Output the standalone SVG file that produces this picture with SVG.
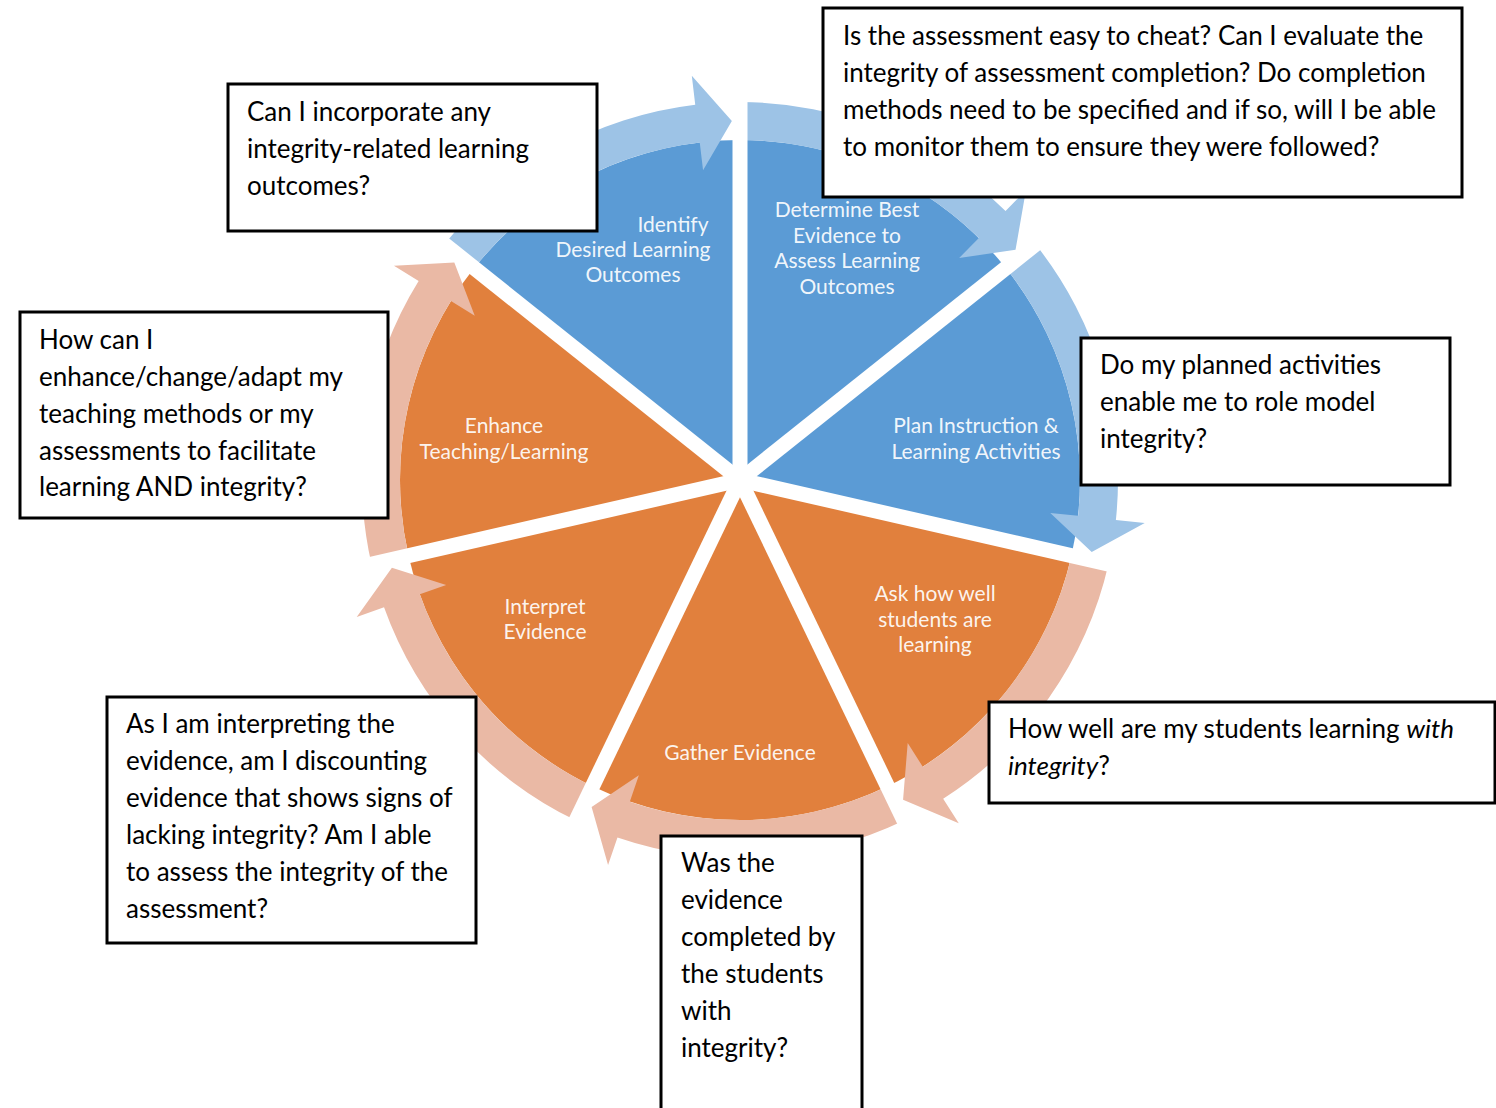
<svg xmlns="http://www.w3.org/2000/svg" width="1496" height="1108" viewBox="0 0 1496 1108">
  <style>
    .blue { fill: #5b9bd5; }
    .orange { fill: #e1803d; }
    .arrow-blue { fill: #9dc3e6; }
    .arrow-orange { fill: #eab9a5; }
    .gap { stroke: #ffffff; stroke-width: 15; stroke-linecap: butt; }
    .seg-label { font-family: Lato, "Liberation Sans", sans-serif; font-size: 21px; fill: #ffffff; fill-opacity: 0.93; text-anchor: middle; }
    .box { fill: #ffffff; stroke: #000000; stroke-width: 3; }
    .note { font-family: Lato, "Liberation Sans", sans-serif; font-size: 26px; fill: #000000; }
  </style>
  <rect x="0" y="0" width="1496" height="1108" fill="#ffffff"/>

  <!-- Pie segments of the cycle, centre (740,480), radius 340 -->
  <g id="seg-determine">
    <path class="blue" d="M740,480 L740,140 A340,340 0 0 1 1005.82,268.01 Z"/>
  </g>
  <g id="seg-plan">
    <path class="blue" d="M740,480 L1005.82,268.01 A340,340 0 0 1 1071.48,555.66 Z"/>
  </g>
  <g id="seg-ask">
    <path class="orange" d="M740,480 L1071.48,555.66 A340,340 0 0 1 887.52,786.33 Z"/>
  </g>
  <g id="seg-gather">
    <path class="orange" d="M740,480 L887.52,786.33 A340,340 0 0 1 592.48,786.33 Z"/>
  </g>
  <g id="seg-interpret">
    <path class="orange" d="M740,480 L592.48,786.33 A340,340 0 0 1 408.52,555.66 Z"/>
  </g>
  <g id="seg-enhance">
    <path class="orange" d="M740,480 L408.52,555.66 A340,340 0 0 1 474.18,268.01 Z"/>
  </g>
  <g id="seg-identify">
    <path class="blue" d="M740,480 L474.18,268.01 A340,340 0 0 1 740,140 Z"/>
  </g>

  <!-- Curved arrows running clockwise round the rim -->
  <g id="connectors">
    <path class="arrow-blue" d="M740,102 A378,378 0 0 1 1005.55,210.98 L1025.92,190.35 L1015.53,249.86 L959.18,257.96 L978.85,238.03 A340,340 0 0 0 740,140 Z"/>
    <path class="arrow-blue" d="M1035.53,244.32 A378,378 0 0 1 1115.89,519.88 L1144.73,522.94 L1091.72,551.92 L1050.26,512.92 L1078.10,515.87 A340,340 0 0 0 1005.82,268.01 Z"/>
    <path class="arrow-orange" d="M1108.52,564.11 A378,378 0 0 1 943.18,798.75 L958.76,823.21 L903.06,799.83 L907.70,743.10 L922.75,766.71 A340,340 0 0 0 1071.48,555.66 Z"/>
    <path class="arrow-orange" d="M904.01,820.57 A378,378 0 0 1 617.47,837.59 L608.07,865.03 L591.61,806.91 L638.86,775.15 L629.79,801.64 A340,340 0 0 0 887.52,786.33 Z"/>
    <path class="arrow-orange" d="M575.99,820.57 A378,378 0 0 1 384.03,607.16 L356.72,616.91 L391.90,567.80 L446.18,584.95 L419.81,594.37 A340,340 0 0 0 592.48,786.33 Z"/>
    <path class="arrow-orange" d="M371.48,564.11 A378,378 0 0 1 418.64,280.97 L393.98,265.70 L454.31,262.59 L474.75,315.72 L450.94,300.98 A340,340 0 0 0 408.52,555.66 Z"/>
    <path class="arrow-blue" d="M444.47,244.32 A378,378 0 0 1 695.24,104.66 L691.81,75.86 L731.86,121.09 L703.06,170.19 L699.74,142.39 A340,340 0 0 0 474.18,268.01 Z"/>
  </g>

  <!-- White separators between the segments -->
  <g id="gaps" class="gap">
    <line x1="740" y1="480" x2="740" y2="60"/>
    <line x1="740" y1="480" x2="1068.37" y2="218.13"/>
    <line x1="740" y1="480" x2="1149.47" y2="573.46"/>
    <line x1="740" y1="480" x2="922.23" y2="858.41"/>
    <line x1="740" y1="480" x2="557.77" y2="858.41"/>
    <line x1="740" y1="480" x2="330.53" y2="573.46"/>
    <line x1="740" y1="480" x2="411.63" y2="218.13"/>
  </g>

  <!-- Segment labels -->
  <g id="labels">
    <text class="seg-label"><tspan x="673" y="232">Identify</tspan><tspan x="633" y="257">Desired Learning</tspan><tspan x="633" y="282">Outcomes</tspan></text>
    <text class="seg-label"><tspan x="847" y="217">Determine Best</tspan><tspan x="847" y="243">Evidence to</tspan><tspan x="847" y="268">Assess Learning</tspan><tspan x="847" y="294">Outcomes</tspan></text>
    <text class="seg-label"><tspan x="976" y="433">Plan Instruction &amp;</tspan><tspan x="976" y="459">Learning Activities</tspan></text>
    <text class="seg-label"><tspan x="935" y="601">Ask how well</tspan><tspan x="935" y="627">students are</tspan><tspan x="935" y="652">learning</tspan></text>
    <text class="seg-label"><tspan x="740" y="760">Gather Evidence</tspan></text>
    <text class="seg-label"><tspan x="545" y="614">Interpret</tspan><tspan x="545" y="639">Evidence</tspan></text>
    <text class="seg-label"><tspan x="504" y="433">Enhance</tspan><tspan x="504" y="459">Teaching/Learning</tspan></text>
  </g>

  <!-- Question call-outs -->
  <g id="note-outcomes">
    <rect class="box" x="228" y="84" width="369" height="147"/>
    <text class="note"><tspan x="247" y="121">Can I incorporate any</tspan><tspan x="247" y="158">integrity-related learning</tspan><tspan x="247" y="195">outcomes?</tspan></text>
  </g>
  <g id="note-evidence">
    <rect class="box" x="823" y="8" width="639" height="189"/>
    <text class="note"><tspan x="843" y="45">Is the assessment easy to cheat? Can I evaluate the</tspan><tspan x="843" y="82">integrity of assessment completion? Do completion</tspan><tspan x="843" y="119">methods need to be specified and if so, will I be able</tspan><tspan x="843" y="156">to monitor them to ensure they were followed?</tspan></text>
  </g>
  <g id="note-enhance">
    <rect class="box" x="20" y="312" width="368" height="206"/>
    <text class="note"><tspan x="39" y="349">How can I</tspan><tspan x="39" y="386">enhance/change/adapt my</tspan><tspan x="39" y="423">teaching methods or my</tspan><tspan x="39" y="460">assessments to facilitate</tspan><tspan x="39" y="496">learning AND integrity?</tspan></text>
  </g>
  <g id="note-plan">
    <rect class="box" x="1081" y="338" width="369" height="147"/>
    <text class="note"><tspan x="1100" y="374">Do my planned activities</tspan><tspan x="1100" y="411">enable me to role model</tspan><tspan x="1100" y="448">integrity?</tspan></text>
  </g>
  <g id="note-ask">
    <rect class="box" x="989" y="702" width="506" height="101"/>
    <text class="note"><tspan x="1008" y="738">How well are my students learning <tspan font-style="italic">with</tspan></tspan><tspan x="1008" y="775"><tspan font-style="italic">integrity</tspan>?</tspan></text>
  </g>
  <g id="note-interpret">
    <rect class="box" x="107" y="697" width="369" height="246"/>
    <text class="note"><tspan x="126" y="733">As I am interpreting the</tspan><tspan x="126" y="770">evidence, am I discounting</tspan><tspan x="126" y="807">evidence that shows signs of</tspan><tspan x="126" y="844">lacking integrity? Am I able</tspan><tspan x="126" y="881">to assess the integrity of the</tspan><tspan x="126" y="918">assessment?</tspan></text>
  </g>
  <g id="note-gather">
    <rect class="box" x="661" y="836" width="201" height="290"/>
    <text class="note"><tspan x="681" y="872">Was the</tspan><tspan x="681" y="909">evidence</tspan><tspan x="681" y="946">completed by</tspan><tspan x="681" y="983">the students</tspan><tspan x="681" y="1020">with</tspan><tspan x="681" y="1057">integrity?</tspan></text>
  </g>
</svg>
